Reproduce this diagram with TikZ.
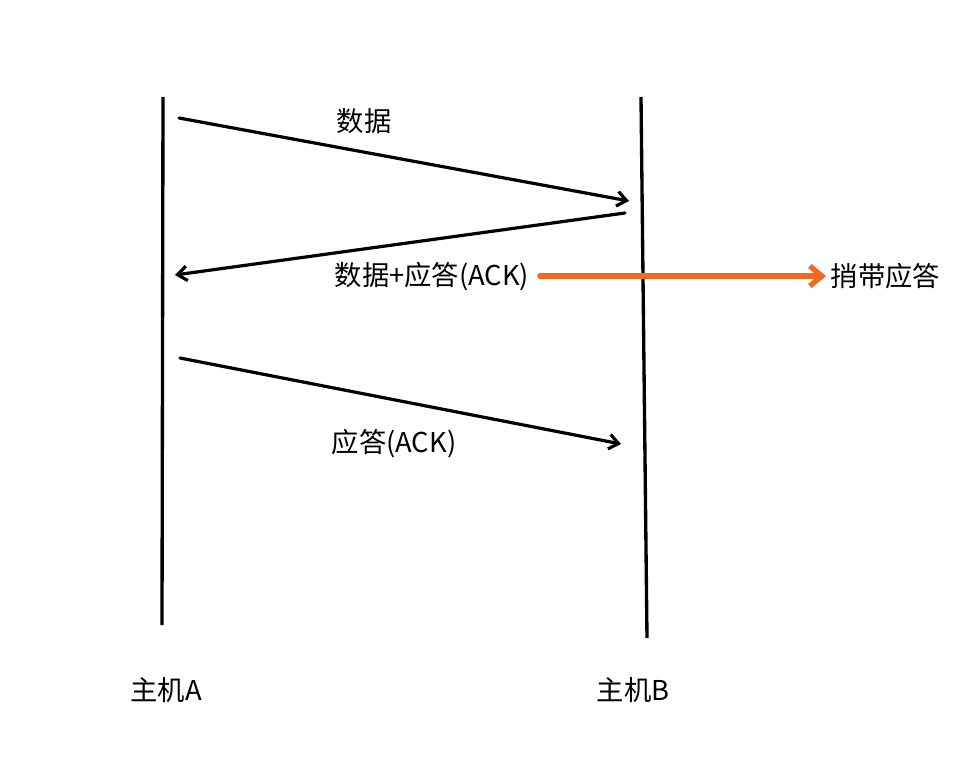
\documentclass[tikz,border=0pt]{standalone}
\usepackage{fontspec}
\setmainfont{Noto Sans CJK SC}
\usetikzlibrary{arrows.meta}
\definecolor{ackorange}{HTML}{F26A1B}

\begin{document}
\begin{tikzpicture}[x=0.75pt,y=-0.75pt,>={Straight Barb[length=7pt,width=11pt]},every node/.style={font=\fontsize{20.5}{24}\selectfont}]
\useasboundingbox (0,0) rectangle (979,774);
\coordinate (atop) at (163,97);
\coordinate (abot) at (162,625);
\coordinate (btop) at (641,97);
\coordinate (bbot) at (647,638);
\draw[line width=2.5pt] (atop) -- (abot);
\draw[line width=2.5pt] (btop) -- (bbot);
\node (hosta) at (166,690) {主机A};
\node (hostb) at (633,690) {主机B};
\coordinate (d1s) at (179,118);
\coordinate (d1e) at (629,201);
\coordinate (d2s) at (625,213);
\coordinate (d2e) at (175,275);
\coordinate (d3s) at (180,358);
\coordinate (d3e) at (621,444);
\draw[->,line width=2.4pt,line cap=round] (d1s) -- (d1e);
\draw[->,line width=2.4pt,line cap=round] (d2s) -- (d2e);
\draw[->,line width=2.4pt,line cap=round] (d3s) -- (d3e);
\node (data) at (364,121) {数据};
\node (dataack) at (432,277) {数据+应答(ACK)};
\node (ack) at (394,444) {应答(ACK)};
\node[right] (piggy) at (826,276) {捎带应答};
\draw[-{Straight Barb[length=9pt,width=15pt]},ackorange,line width=4pt,line cap=round] (dataack.east) ++(6,-1) coordinate (os) -- (piggy.west);
\end{tikzpicture}
\end{document}
